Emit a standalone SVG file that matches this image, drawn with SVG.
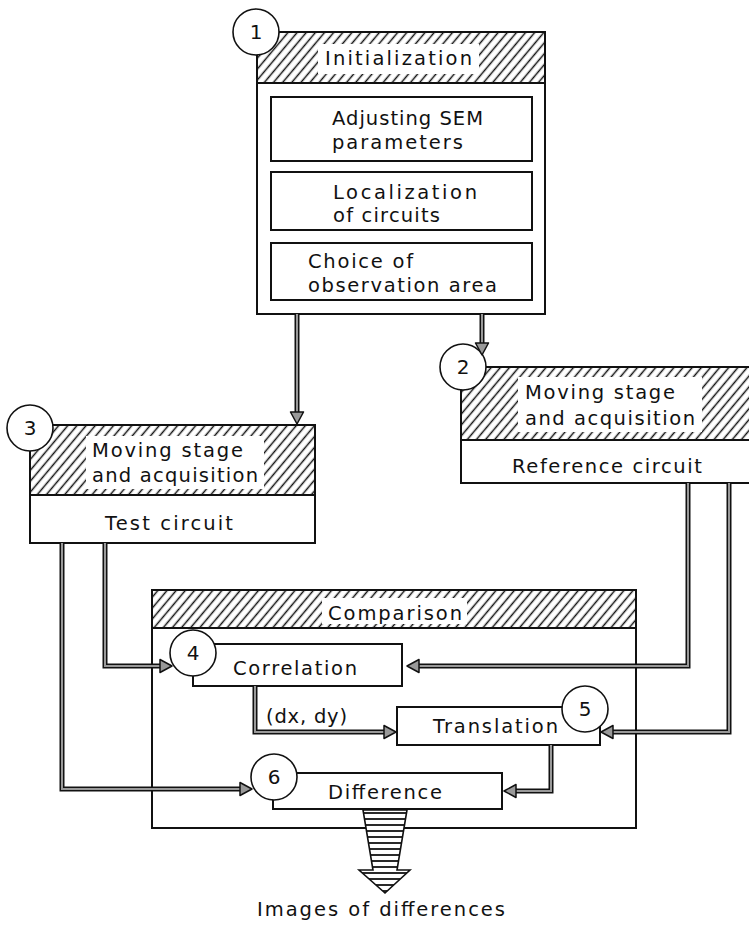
<svg xmlns="http://www.w3.org/2000/svg" xmlns:xlink="http://www.w3.org/1999/xlink" width="749" height="925" viewBox="0 0 749 925">
<style>
.box{fill:#fff;stroke:#111;stroke-width:2}
.hdr{fill:url(#hatch);stroke:#111;stroke-width:2}
.wb{fill:#fff;stroke:none}
.t{font-family:"DejaVu Sans","Liberation Sans",sans-serif;font-size:19.5px;fill:#111}
.num{font-family:"DejaVu Sans","Liberation Sans",sans-serif;font-size:20px;fill:#111;text-anchor:middle}
.circ{fill:#fff;stroke:#111;stroke-width:1.6}
.wo{fill:none;stroke:#111;stroke-width:5;stroke-linejoin:miter}
.wi{fill:none;stroke:#999;stroke-width:2;stroke-linejoin:miter}
</style>
<defs>
<pattern id="hatch" patternUnits="userSpaceOnUse" width="7" height="10" patternTransform="rotate(40)">
<rect width="7" height="10" fill="#fff"/>
<line x1="3.5" y1="0" x2="3.5" y2="10" stroke="#111" stroke-width="1.5"/>
</pattern>
<pattern id="hl" patternUnits="userSpaceOnUse" width="10" height="6">
<rect width="10" height="6" fill="#fff"/>
<line x1="0" y1="3" x2="10" y2="3" stroke="#111" stroke-width="1.8"/>
</pattern>
<polygon id="ah" points="0,0 -12,-6.5 -12,6.5" fill="#999" stroke="#111" stroke-width="1.5" stroke-linejoin="round"/>
</defs>
<rect width="749" height="925" fill="#fff"/>

<g id="n1">
<rect class="box" x="257" y="32" width="288" height="282"/>
<rect class="hdr" x="257" y="32" width="288" height="51"/>
<rect class="wb" x="318" y="44" width="161" height="30"/>
<text class="t" x="325" y="65" textLength="147" lengthAdjust="spacing">Initialization</text>
<rect class="box" x="271" y="97" width="261" height="64"/>
<text class="t" x="332" y="125" textLength="151" lengthAdjust="spacing">Adjusting SEM</text>
<text class="t" x="332" y="149" textLength="131" lengthAdjust="spacing">parameters</text>
<rect class="box" x="271" y="172" width="261" height="58"/>
<text class="t" x="333" y="199" textLength="144" lengthAdjust="spacing">Localization</text>
<text class="t" x="333" y="222" textLength="107" lengthAdjust="spacing">of circuits</text>
<rect class="box" x="271" y="243" width="261" height="57"/>
<text class="t" x="308" y="268" textLength="105" lengthAdjust="spacing">Choice of</text>
<text class="t" x="308" y="292" textLength="189" lengthAdjust="spacing">observation area</text>
<circle class="circ" cx="256" cy="32" r="23"/>
<text class="num" x="256" y="39">1</text>
</g>

<g id="n2">
<rect class="box" x="461" y="367" width="300" height="116"/>
<rect class="hdr" x="461" y="367" width="300" height="73"/>
<rect class="wb" x="518" y="377" width="184" height="55"/>
<text class="t" x="525" y="399" textLength="150" lengthAdjust="spacing">Moving stage</text>
<text class="t" x="525" y="425" textLength="170" lengthAdjust="spacing">and acquisition</text>
<text class="t" x="512" y="473" textLength="190" lengthAdjust="spacing">Reference circuit</text>
<circle class="circ" cx="463" cy="367" r="23"/>
<text class="num" x="463" y="374">2</text>
</g>

<g id="n3">
<rect class="box" x="30" y="425" width="285" height="118"/>
<rect class="hdr" x="30" y="425" width="285" height="70"/>
<rect class="wb" x="86" y="436" width="178" height="53"/>
<text class="t" x="92" y="457" textLength="151" lengthAdjust="spacing">Moving stage</text>
<text class="t" x="92" y="482" textLength="166" lengthAdjust="spacing">and acquisition</text>
<text class="t" x="105" y="530" textLength="128" lengthAdjust="spacing">Test circuit</text>
<circle class="circ" cx="30" cy="428" r="23"/>
<text class="num" x="30" y="435">3</text>
</g>

<g id="comparison">
<rect class="box" x="152" y="590" width="484" height="238"/>
<rect class="hdr" x="152" y="590" width="484" height="38"/>
<rect class="wb" x="322" y="598" width="145" height="26"/>
<text class="t" x="328" y="620" textLength="134" lengthAdjust="spacing">Comparison</text>
</g>

<g id="n4">
<rect class="box" x="193" y="644" width="209" height="42"/>
<text class="t" x="233" y="675" textLength="124" lengthAdjust="spacing">Correlation</text>
<circle class="circ" cx="193" cy="653" r="23"/>
<text class="num" x="193" y="660">4</text>
</g>

<g id="n5">
<rect class="box" x="397" y="707" width="203" height="38"/>
<text class="t" x="433" y="733" textLength="125" lengthAdjust="spacing">Translation</text>
<circle class="circ" cx="585" cy="709" r="23"/>
<text class="num" x="585" y="716">5</text>
</g>

<g id="n6">
<rect class="box" x="273" y="773" width="229" height="36"/>
<text class="t" x="328" y="799" textLength="114" lengthAdjust="spacing">Difference</text>
<circle class="circ" cx="274" cy="777" r="23"/>
<text class="num" x="274" y="784">6</text>
</g>

<g id="connectors">
<path class="wo" d="M297,314 V412"/><path class="wi" d="M297,314 V412"/>
<use xlink:href="#ah" href="#ah" transform="translate(297,424) rotate(90)"/>
<path class="wo" d="M482,314 V343"/><path class="wi" d="M482,314 V343"/>
<use xlink:href="#ah" href="#ah" transform="translate(482,355) rotate(90)"/>
<path class="wo" d="M105,543 V666 H161"/><path class="wi" d="M105,543 V666 H161"/>
<use xlink:href="#ah" href="#ah" transform="translate(172,666)"/>
<path class="wo" d="M62,543 V789 H240"/><path class="wi" d="M62,543 V789 H240"/>
<use xlink:href="#ah" href="#ah" transform="translate(252,789)"/>
<path class="wo" d="M688,483 V666 H419"/><path class="wi" d="M688,483 V666 H419"/>
<use xlink:href="#ah" href="#ah" transform="translate(407,666) rotate(180)"/>
<path class="wo" d="M729,483 V732 H613"/><path class="wi" d="M729,483 V732 H613"/>
<use xlink:href="#ah" href="#ah" transform="translate(601,732) rotate(180)"/>
<path class="wo" d="M255,686 V732 H384"/><path class="wi" d="M255,686 V732 H384"/>
<use xlink:href="#ah" href="#ah" transform="translate(396,732)"/>
<text class="t" x="266" y="723" textLength="81" lengthAdjust="spacing">(dx, dy)</text>
<path class="wo" d="M551,745 V791 H516"/><path class="wi" d="M551,745 V791 H516"/>
<use xlink:href="#ah" href="#ah" transform="translate(504,791) rotate(180)"/>
</g>

<g id="output">
<polygon points="363,810 407,810 397,870 410,870 385,893 359,870 373,870" fill="url(#hl)" stroke="#111" stroke-width="1.6" stroke-linejoin="miter"/>
<text class="t" x="257" y="916" textLength="248" lengthAdjust="spacing">Images of differences</text>
</g>
</svg>
